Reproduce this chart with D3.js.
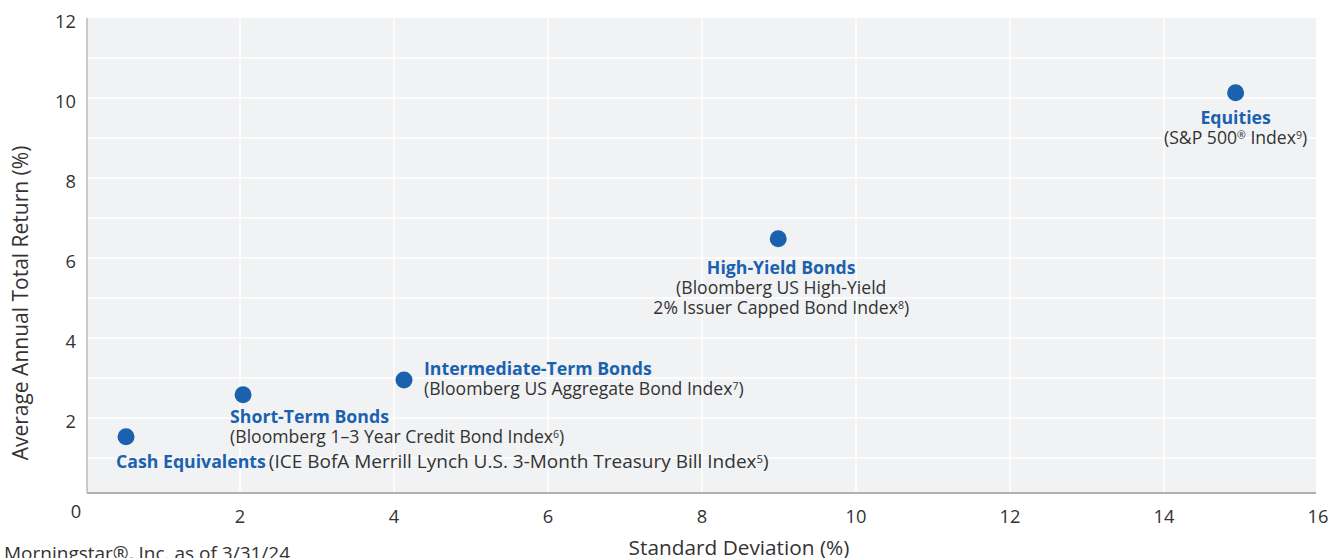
<!DOCTYPE html>
<html>
<head>
<meta charset="utf-8">
<script src="https://cdn.jsdelivr.net/npm/d3@7"></script>
<style>
  body { margin: 0; background: #fff; }
  svg { display: block; font-family: "Open Sans", sans-serif; }
</style>
</head>
<body>
<div id="chart"></div>
<script>
// asset classes
const names = ["Cash Equivalents", "Short-Term Bonds", "Intermediate-Term Bonds", "High-Yield Bonds", "Equities"]
const stdDev = [0.52, 2.04, 4.13, 8.99, 14.93]
const avgReturn = [1.53, 2.58, 2.95, 6.48, 10.13]
// index description lines: [text, superscript] pieces
const indexLines = [
    [[["(ICE BofA Merrill Lynch U.S. 3-Month Treasury Bill Index", ""], ["5", "sup"], [")", ""]]],
    [[["(Bloomberg 1–3 Year Credit Bond Index", ""], ["6", "sup"], [")", ""]]],
    [[["(Bloomberg US Aggregate Bond Index", ""], ["7", "sup"], [")", ""]]],
    [[["(Bloomberg US High-Yield", ""]], [["2% Issuer Capped Bond Index", ""], ["8", "sup"], [")", ""]]],
    [[["(S&P 500", ""], ["®", "sup"], [" Index", ""], ["9", "sup"], [")", ""]]]
]
const xTicks = [2, 4, 6, 8, 10, 12, 14, 16]
const yTicks = [2, 4, 6, 8, 10, 12]

const width = 1330
const height = 558
const plot = { left: 87, right: 1316, top: 18, bottom: 493 }

const x = d3.scaleLinear().domain([0, 16]).range([86, 1318])
const y = d3.scaleLinear().domain([0.125, 12]).range([plot.bottom, plot.top])

const blue = "#1b62ae"
const dark = "#333"

const svg = d3.select("#chart")
    .append("svg")
    .attr("width", width)
    .attr("height", height)

svg.append("rect")
    .attr("x", plot.left)
    .attr("y", plot.top)
    .attr("width", plot.right - plot.left)
    .attr("height", plot.bottom - plot.top)
    .attr("fill", "#f1f2f4")

// grid
svg.append("g")
    .attr("stroke", "#fff")
    .attr("stroke-width", 1.5)
    .selectAll("line.h")
    .data(d3.range(1, 12))
    .join("line")
    .attr("x1", plot.left).attr("x2", plot.right)
    .attr("y1", d => y(d)).attr("y2", d => y(d))

svg.append("g")
    .attr("stroke", "#fff")
    .attr("stroke-width", 1.5)
    .selectAll("line.v")
    .data(xTicks.filter(d => d < 16))
    .join("line")
    .attr("x1", d => x(d)).attr("x2", d => x(d))
    .attr("y1", plot.top).attr("y2", plot.bottom)

// axis lines
svg.append("line")
    .attr("x1", plot.left).attr("x2", plot.left)
    .attr("y1", plot.top).attr("y2", plot.bottom)
    .attr("stroke", "#9a9a9a").attr("stroke-width", 1)
svg.append("line")
    .attr("x1", plot.left).attr("x2", plot.right)
    .attr("y1", plot.bottom).attr("y2", plot.bottom)
    .attr("stroke", "#b0b0b0").attr("stroke-width", 2)

// tick labels
svg.append("g")
    .attr("font-size", 18.3)
    .attr("fill", dark)
    .attr("text-anchor", "end")
    .selectAll("text")
    .data(yTicks)
    .join("text")
    .attr("x", 76)
    .attr("y", d => y(d))
    .attr("dy", 10)
    .text(d => d)

svg.append("g")
    .attr("font-size", 18.3)
    .attr("fill", dark)
    .attr("text-anchor", "middle")
    .selectAll("text")
    .data(xTicks)
    .join("text")
    .attr("x", d => x(d))
    .attr("y", 523)
    .text(d => d)

svg.append("text")
    .attr("font-size", 18.3)
    .attr("fill", dark)
    .attr("text-anchor", "middle")
    .attr("x", 76)
    .attr("y", 518)
    .text("0")

// axis titles
svg.append("text")
    .attr("font-size", 21)
    .attr("fill", dark)
    .attr("text-anchor", "middle")
    .attr("transform", "translate(28,303) rotate(-90)")
    .text("Average Annual Total Return (%)")

svg.append("text")
    .attr("font-size", 20.8)
    .attr("fill", dark)
    .attr("text-anchor", "middle")
    .attr("x", 739)
    .attr("y", 555)
    .text("Standard Deviation (%)")

svg.append("text")
    .attr("font-size", 19)
    .attr("fill", dark)
    .attr("x", 4)
    .attr("y", 560)
    .text("Morningstar®, Inc. as of 3/31/24")

// points
const data = names.map((n, i) => ({ name: n, sd: stdDev[i], ret: avgReturn[i], lines: indexLines[i] }))

svg.append("g")
    .attr("fill", blue)
    .selectAll("circle")
    .data(data)
    .join("circle")
    .attr("cx", d => x(d.sd))
    .attr("cy", d => y(d.ret))
    .attr("r", 8.5)

// label placement relative to each point
const labelPos = [
    { dx: -10, dy: 31, anchor: "start", inline: true },
    { dx: -13, dy: 28, anchor: "start" },
    { dx: 20, dy: -5, anchor: "start" },
    { dx: 3, dy: 35, anchor: "middle" },
    { dx: 0, dy: 31, anchor: "middle" }
]

const addPieces = (text, pieces, size) => {
    pieces.forEach(([s, kind]) => {
        if (kind === "sup") {
            text.append("tspan")
                .attr("font-size", size * 0.6)
                .attr("baseline-shift", "5")
                .text(s)
        } else {
            text.append("tspan").text(s)
        }
    })
}

data.forEach((d, i) => {
    const p = labelPos[i]
    const lx = x(d.sd) + p.dx
    const ly = y(d.ret) + p.dy
    const t = svg.append("text")
        .attr("x", lx)
        .attr("y", ly)
        .attr("text-anchor", p.anchor)
        .attr("font-size", 17.7)
    t.append("tspan")
        .attr("font-weight", "bold")
        .attr("fill", blue)
        .text(d.name)
    if (p.inline) {
        const rest = t.append("tspan").attr("fill", dark).attr("font-size", 19).attr("dx", 3)
        addPieces(rest, d.lines[0], 19)
        return
    }
    d.lines.forEach((line, j) => {
        const lt = svg.append("text")
            .attr("x", lx)
            .attr("y", ly + 20 * (j + 1))
            .attr("text-anchor", p.anchor)
            .attr("font-size", 17.6)
            .attr("fill", dark)
        addPieces(lt, line, 17.6)
    })
})
</script>
</body>
</html>
